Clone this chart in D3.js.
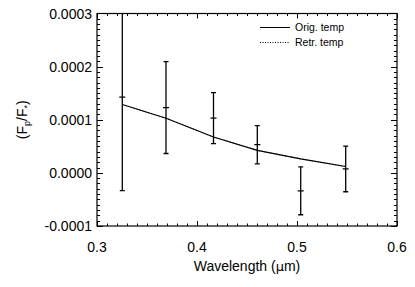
<!DOCTYPE html>
<html>
<head>
<meta charset="utf-8">
<script src="https://cdn.jsdelivr.net/npm/d3@7"></script>
<style>
  body { margin: 0; background: #fff; }
  svg { display: block; }
  text { font-family: "Liberation Sans", Arial, Helvetica, sans-serif; fill: #000; }
</style>
</head>
<body>
<div id="chart"></div>
<script>
let width = 415;
let height = 287;

/// measured points (wavelength, flux ratio, error)
const wavelengths = [0.3253, 0.369, 0.4165, 0.4603, 0.5037, 0.5487];
const ratios = [0.0001425, 0.000123, 0.000103, 0.000053, -0.0000338, 0.0000075];
const errors = [0.000176, 0.0000865, 0.000048, 0.000036, 0.000045, 0.000043];

/// model curves
const origTemp = [0.0001288, 0.000103, 0.0000675, 0.0000424, 0.0000263, 0.0000119];
const retrTemp = [0.0001288, 0.000103, 0.0000675, 0.0000424, 0.0000263, 0.0000119];

const xTicks = [0.3, 0.4, 0.5, 0.6];
const yTicks = [-0.0001, 0, 0.0001, 0.0002, 0.0003];
const legendLabels = ['Orig. temp', 'Retr. temp'];

let margin = { left: 97, right: 18, top: 13.5, bottom: 61 };

let svg = d3.select('#chart').append('svg')
  .attr('width', width).attr('height', height);

let x = d3.scaleLinear().domain([0.3, 0.6]).range([margin.left, width - margin.right]);
let y = d3.scaleLinear().domain([-0.0001, 0.0003]).range([height - margin.bottom, margin.top]);

let x0 = x.range()[0], x1 = x.range()[1];
let y0 = y.range()[0], y1 = y.range()[1];

svg.append('defs').append('clipPath').attr('id', 'plot-clip')
  .append('rect').attr('x', x0).attr('y', y1).attr('width', x1 - x0).attr('height', y0 - y1);

/// minor + major ticks on all four sides
let xMinor = d3.range(0, 31).map(function(i) { return 0.3 + i * 0.01; });
let yMinor = d3.range(0, 41).map(function(i) { return -0.0001 + i * 0.00001; });

let ticks = svg.append('g').attr('stroke', '#000').attr('stroke-width', 1);

xMinor.forEach(function(v, i) {
  let len = (i % 10 === 0) ? 5 : 2.5;
  let px = Math.round(x(v)) + 0.5;
  ticks.append('line').attr('x1', px).attr('x2', px).attr('y1', y0).attr('y2', y0 - len);
  ticks.append('line').attr('x1', px).attr('x2', px).attr('y1', y1).attr('y2', y1 + len);
});
yMinor.forEach(function(v, i) {
  let len = (i % 10 === 0) ? 6 : 3;
  let py = Math.round(y(v)) + 0.5;
  ticks.append('line').attr('x1', x0).attr('x2', x0 + len).attr('y1', py).attr('y2', py);
  ticks.append('line').attr('x1', x1).attr('x2', x1 - len).attr('y1', py).attr('y2', py);
});

/// frame
svg.append('rect')
  .attr('x', x0).attr('y', y1)
  .attr('width', x1 - x0).attr('height', y0 - y1)
  .attr('fill', 'none').attr('stroke', '#000').attr('stroke-width', 1.2);

/// tick labels
svg.append('g').selectAll('text')
  .data(xTicks)
  .enter().append('text')
  .attr('x', function(d) { return x(d); })
  .attr('y', 252)
  .attr('text-anchor', 'middle')
  .attr('font-size', 14)
  .text(function(d) { return d3.format('.1f')(d); });

svg.append('g').selectAll('text')
  .data(yTicks)
  .enter().append('text')
  .attr('x', 92)
  .attr('y', function(d) { return y(d) + 5; })
  .attr('text-anchor', 'end')
  .attr('font-size', 14)
  .text(function(d) { return d3.format('.4f')(d).replace('−', '-'); });

/// axis titles
let xTitle = svg.append('text')
  .attr('x', (x0 + x1) / 2).attr('y', 271)
  .attr('text-anchor', 'middle').attr('font-size', 14);
xTitle.append('tspan').text('Wavelength (');
xTitle.append('tspan').attr('font-family', '"DejaVu Sans", sans-serif').attr('font-size', 13).text('μ');
xTitle.append('tspan').text('m)');

let yTitle = svg.append('text')
  .attr('transform', 'translate(27,' + ((y0 + y1) / 2) + ') rotate(-90)')
  .attr('text-anchor', 'middle').attr('font-size', 14);
yTitle.append('tspan').text('(F');
yTitle.append('tspan').attr('font-size', 9).attr('dy', 3).text('p');
yTitle.append('tspan').attr('dy', -3).text('/F');
yTitle.append('tspan').attr('font-size', 9).attr('dy', 3).text('*');
yTitle.append('tspan').attr('dy', -3).text(')');

let plot = svg.append('g').attr('clip-path', 'url(#plot-clip)');

/// model lines
let line = d3.line()
  .x(function(d) { return x(d[0]); })
  .y(function(d) { return y(d[1]); });

plot.append('path')
  .datum(d3.zip(wavelengths, retrTemp))
  .attr('d', line)
  .attr('fill', 'none').attr('stroke', '#000').attr('stroke-width', 1)
  .attr('stroke-dasharray', '1,2');

plot.append('path')
  .datum(d3.zip(wavelengths, origTemp))
  .attr('d', line)
  .attr('fill', 'none').attr('stroke', '#000').attr('stroke-width', 1.1);

/// error bars
let points = wavelengths.map(function(w, i) { return { w: w, v: ratios[i], e: errors[i] }; });

let bars = plot.append('g').attr('stroke', '#000').attr('stroke-width', 1.3);
points.forEach(function(d) {
  let px = x(d.w);
  bars.append('line').attr('x1', px).attr('x2', px).attr('y1', y(d.v - d.e)).attr('y2', y(d.v + d.e));
  bars.append('line').attr('x1', px - 2.5).attr('x2', px + 2.5).attr('y1', y(d.v - d.e)).attr('y2', y(d.v - d.e));
  bars.append('line').attr('x1', px - 2.5).attr('x2', px + 2.5).attr('y1', y(d.v + d.e)).attr('y2', y(d.v + d.e));
  bars.append('line').attr('x1', px - 3).attr('x2', px + 3).attr('y1', y(d.v)).attr('y2', y(d.v));
});

/// legend
let legend = svg.append('g');
legendLabels.forEach(function(label, i) {
  let ly = 27.5 + i * 15;
  legend.append('line')
    .attr('x1', 260).attr('x2', 290).attr('y1', ly).attr('y2', ly)
    .attr('stroke', '#000').attr('stroke-width', 1)
    .attr('stroke-dasharray', i === 0 ? null : '1,1.5');
  legend.append('text')
    .attr('x', 295).attr('y', ly + 3.5)
    .attr('font-size', 10.5)
    .text(label);
});
</script>
</body>
</html>
